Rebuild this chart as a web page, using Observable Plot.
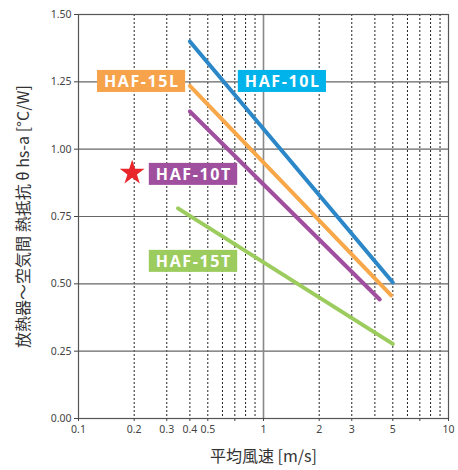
<!DOCTYPE html>
<html><head><meta charset="utf-8">
<script src="https://cdn.jsdelivr.net/npm/d3@7"></script>
<script src="https://cdn.jsdelivr.net/npm/@observablehq/plot@0.6"></script>
<style>
body{margin:0;background:#fff}
svg [aria-label="x-axis label"] text, svg [aria-label="y-axis label"] text{font-family:"Noto Sans CJK JP","Noto Sans",sans-serif;font-size:16px;fill:#333}
.lbl text{letter-spacing:1.6px}
</style>
</head><body><div id="chart"></div>
<script>
const series = ["HAF-10L", "HAF-15L", "HAF-10T", "HAF-15T"];
const lineColors = ["#2b87c8", "#f8a749", "#a04f9f", "#9ccc5d"];
const labelColors = ["#00b3ea", "#f6a34b", "#a04f9f", "#9ccc5d"];
const speedStart = [0.4, 0.4, 0.4, 0.345];
const speedEnd = [5, 4.9, 4.25, 5];
const resStart = [1.40, 1.235, 1.14, 0.78];
const resEnd = [0.505, 0.457, 0.442, 0.277];
const labelSpeed = [1.27, 0.22, 0.42, 0.42];
const labelRes = [1.25, 1.25, 0.905, 0.582];
const starSpeed = [0.195];
const starRes = [0.912];
const xTicks = [0.1, 0.2, 0.3, 0.4, 0.5, 0.7, 1, 2, 3, 5, 7, 10];
const xDashGrid = [0.2, 0.3, 0.4, 0.5, 0.6, 0.7, 0.8, 0.9, 2, 3, 4, 5, 6, 7, 8, 9];
const yTicks = [0, 0.25, 0.5, 0.75, 1.0, 1.25, 1.5];
const yGrid = [0.25, 0.5, 0.75, 1.0, 1.25];

const lines = series.flatMap((s, i) => [
  {s, v: speedStart[i], r: resStart[i]},
  {s, v: speedEnd[i], r: resEnd[i]}
]);
const labels = series.map((s, i) => ({s, v: labelSpeed[i], r: labelRes[i], c: labelColors[i]}));
const star = starSpeed.map((v, i) => ({v, r: starRes[i]}));

const chart = Plot.plot({
  width: 458, height: 470,
  marginLeft: 78, marginRight: 10, marginTop: 14, marginBottom: 52,
  style: {fontFamily: "'Noto Sans', sans-serif", fontSize: "10.5px", color: "#444", background: "#fff"},
  x: {type: "log", domain: [0.1, 10]},
  y: {domain: [0, 1.5]},
  color: {domain: series, range: lineColors},
  marks: [
    Plot.ruleX(xDashGrid, {stroke: "#222", strokeDasharray: "2,2", strokeWidth: 1}),
    Plot.ruleY(yGrid, {stroke: "#666", strokeWidth: 1.2}),
    Plot.ruleX([1], {stroke: "#888", strokeWidth: 1.6}),
    Plot.frame({stroke: "#555", strokeWidth: 1.2}),
    Plot.axisX({ticks: xTicks, tickFormat: d => String(d), tickSize: 3, tickPadding: 4,
      label: "平均風速 [m/s]", labelAnchor: "center", labelArrow: "none", labelOffset: 43}),
    Plot.axisY({ticks: yTicks, tickFormat: d3.format(".2f"), tickSize: 4, tickPadding: 3,
      label: "放熱器～空気間 熱抵抗 θ hs-a [°C/W]", labelAnchor: "center", labelArrow: "none", labelOffset: 61}),
    Plot.line(lines, {x: "v", y: "r", z: "s", stroke: "s", strokeWidth: 4}),
    Plot.dot(star, {x: "v", y: "r", symbol: "star", r: 7.8, fill: "#e8262b", stroke: "none"}),
    Plot.text(labels, {x: "v", y: "r", text: "s", fill: "white", fontWeight: "bold", fontSize: 16,
      fontFamily: "'Open Sans', 'Noto Sans', sans-serif", className: "lbl"})
  ]
});
document.getElementById("chart").appendChild(chart);

// add coloured boxes behind each label
const g = chart.querySelector("g.lbl") || chart.querySelector(".lbl");
if (g) {
  const texts = Array.from(g.querySelectorAll("text"));
  texts.forEach((t, i) => {
    const b = t.getBBox();
    const rect = document.createElementNS("http://www.w3.org/2000/svg", "rect");
    const padX = 7, h = 22;
    rect.setAttribute("x", b.x - padX);
    rect.setAttribute("y", b.y + b.height / 2 - h / 2);
    rect.setAttribute("width", b.width + 2 * padX - 1.6);
    rect.setAttribute("height", h);
    rect.setAttribute("fill", labels[i].c);
    const tr = t.getAttribute("transform");
    if (tr) rect.setAttribute("transform", tr);
    g.insertBefore(rect, texts[0]);
  });
}
</script>
</body></html>
